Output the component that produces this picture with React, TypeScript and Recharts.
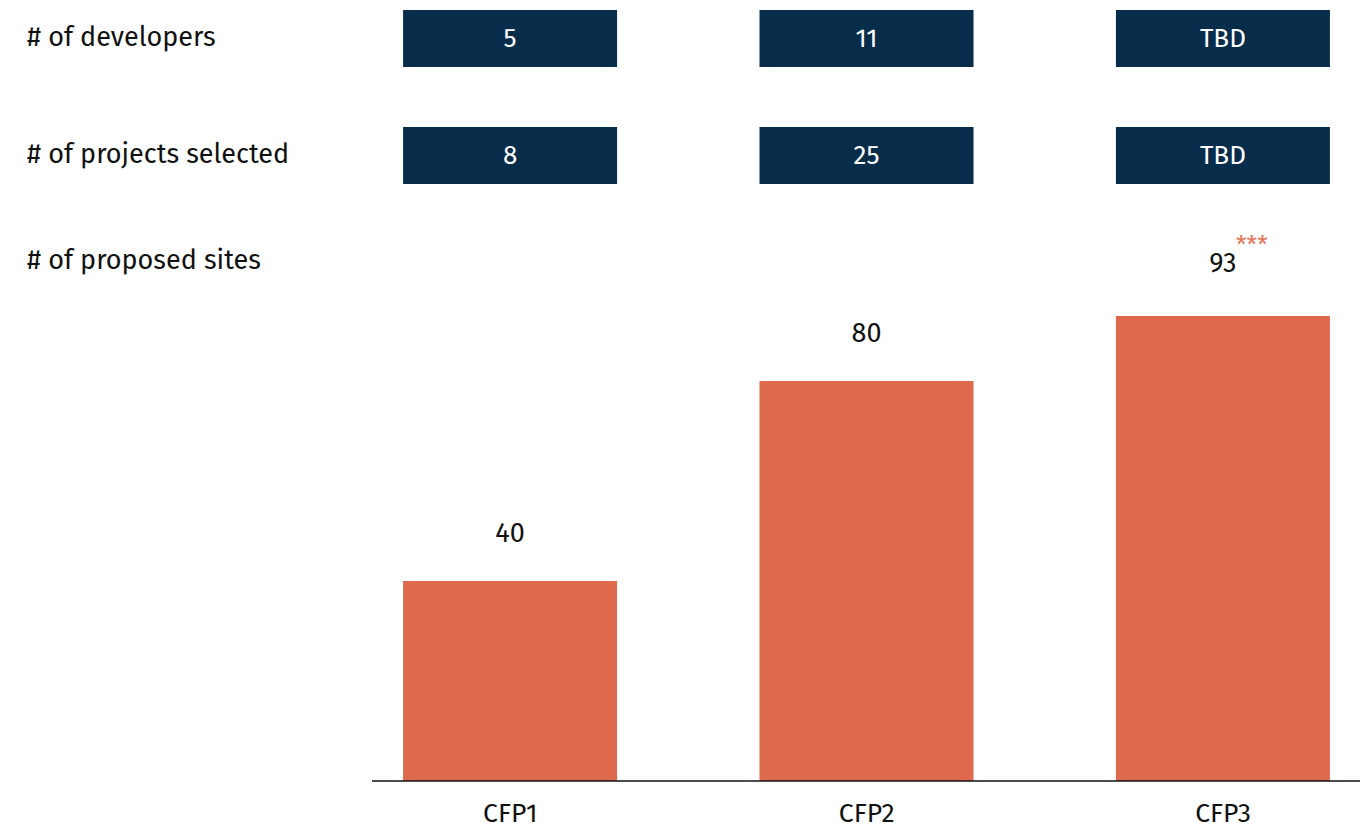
import React from 'react';
import { BarChart, Bar, XAxis, YAxis, LabelList, Customized } from 'recharts';

const categories = ['CFP1', 'CFP2', 'CFP3'];
const proposedSites = [40, 80, 93];
const developers = ['5', '11', 'TBD'];
const projectsSelected = ['8', '25', 'TBD'];
const footnotes = ['', '', '***'];
const rowLabels = ['# of developers', '# of projects selected', '# of proposed sites'];

const data = categories.map((c, i) => ({
  idx: i,
  name: c,
  sites: proposedSites[i],
  developers: developers[i],
  projects: projectsSelected[i],
  note: footnotes[i],
}));

const FONT = "'Fira Sans', 'Noto Sans', sans-serif";
const NAVY = '#072D4A';
const ORANGE = '#DE694C';

const makeBox = (top: number, h: number) => (props: any) => {
  const { x, width, value } = props;
  return (
    <g>
      <rect x={x} y={top} width={width} height={h} fill={NAVY} />
      <text
        x={x + width / 2}
        y={top + h / 2}
        textAnchor="middle"
        dominantBaseline="central"
        fill="#ffffff"
        fontSize={26}
        fontFamily={FONT}
      >
        {value}
      </text>
    </g>
  );
};

const ValueLabel = (props: any) => {
  const { x, y, width, value, index } = props;
  const cx = x + width / 2;
  const note = footnotes[index];
  const ty = y - (note ? 53 : 48);
  return (
    <g>
      <text x={cx} y={ty} textAnchor="middle" dominantBaseline="central" fill="#111" fontSize={27} fontFamily={FONT}>
        {value}
      </text>
      {note ? (
        <text x={cx + 13} y={ty - 18} textAnchor="start" dominantBaseline="central" fill="#E2765A" fontSize={24} fontFamily={FONT}>
          {note}
        </text>
      ) : null}
    </g>
  );
};

const rowY = [37, 154, 260];

const RowLabels = () => (
  <g>
    {rowLabels.map((t, i) => (
      <text key={t} x={27} y={rowY[i]} dominantBaseline="central" fill="#111" fontSize={27} fontFamily={FONT}>
        {t}
      </text>
    ))}
  </g>
);

export default function App() {
  return (
    <div style={{ position: 'absolute', left: 0, top: 0, width: 1366, height: 828, background: '#fff' }}>
      <BarChart
        width={1366}
        height={828}
        data={data}
        margin={{ top: 281, right: 6, left: 372, bottom: 17 }}
      >
        <XAxis
          type="number"
          dataKey="idx"
          domain={[-0.388, 2.384]}
          ticks={[0, 1, 2]}
          tickFormatter={(v: number) => categories[v]}
          allowDataOverflow
          height={30}
          tickLine={false}
          axisLine={{ stroke: '#111', strokeWidth: 1.3 }}
          tick={{ fill: '#111', fontSize: 26.5, fontFamily: FONT, dy: 14 }}
          interval={0}
        />
        <YAxis hide domain={[0, 100]} width={0} />
        <Bar dataKey="sites" fill={ORANGE} barSize={214} isAnimationActive={false}>
          <LabelList dataKey="sites" content={ValueLabel} />
          <LabelList dataKey="developers" content={makeBox(10, 57)} />
          <LabelList dataKey="projects" content={makeBox(127, 57)} />
        </Bar>
        <Customized component={RowLabels} />
      </BarChart>
    </div>
  );
}
